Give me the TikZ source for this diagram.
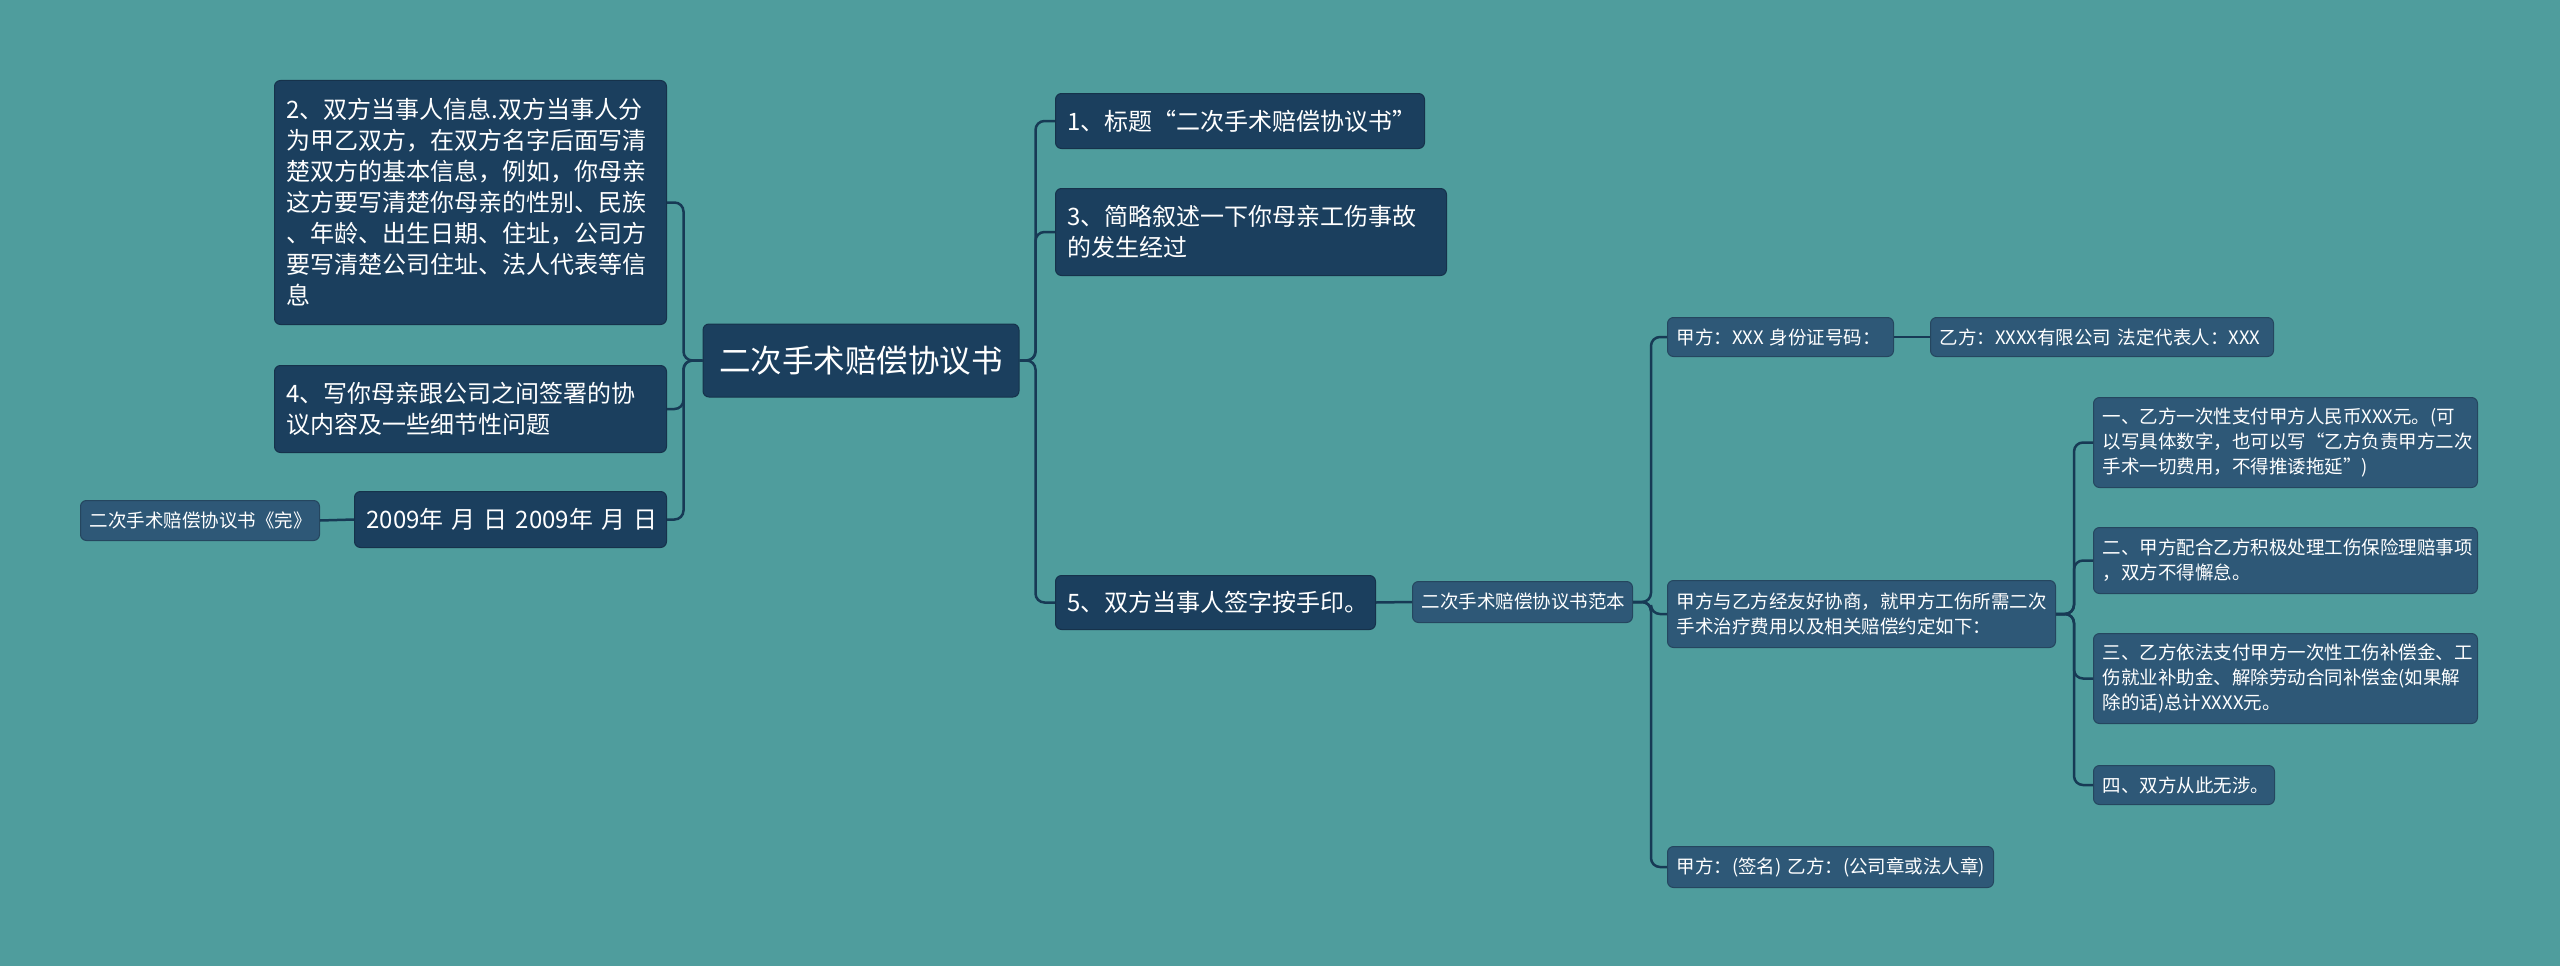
\documentclass[tikz,border=0pt]{standalone}
\usepackage{fontspec}
\setmainfont{Noto Sans CJK SC}
\definecolor{bg}{HTML}{4F9D9D}
\definecolor{dk}{HTML}{1B3F5E}
\definecolor{md}{HTML}{2E5877}
\definecolor{ln}{HTML}{173A55}
\tikzset{
  base/.style={anchor=north west, text=white, rounded corners=6pt, inner ysep=0pt, align=left},
  lvlA/.style={base, fill=dk, draw=dk!80!black, line width=1pt, font=\fontsize{24}{31}\selectfont, inner xsep=12pt},
  lvlB/.style={base, fill=md, draw=md!80!black, line width=1pt, font=\fontsize{18.5}{25}\selectfont, inner xsep=9pt},
  rootbox/.style={fill=dk, draw=dk!80!black, line width=1pt, text=white, rounded corners=6pt, inner sep=0pt, font=\fontsize{31.5}{38}\selectfont},
  conn/.style={draw=ln, line width=2.5pt, rounded corners=9pt},
}
\begin{document}
\begin{tikzpicture}[x=1pt,y=-1pt]
\useasboundingbox (0,0) rectangle (2560,966);
\fill[bg] (0,0) rectangle (2560,966);

% root
\node[rootbox, minimum width=316pt, minimum height=73pt] (root) at (861,360.5) {二次手术赔偿协议书};

% left side
\node[lvlA, text width=368pt, minimum height=244pt] (n2) at (274,80) {2、双方当事人信息.双方当事人分\\为甲乙双方，在双方名字后面写清\\楚双方的基本信息，例如，你母亲\\这方要写清楚你母亲的性别、民族\\、年龄、出生日期、住址，公司方\\要写清楚公司住址、法人代表等信\\息};
\node[lvlA, text width=368pt, minimum height=87pt] (n4) at (274,365) {4、写你母亲跟公司之间签署的协\\议内容及一些细节性问题};
\node[lvlA, text width=288pt, minimum height=56pt] (date) at (354,491) {\mbox{2009年 月 日 2009年 月 日}};
\node[lvlB, text width=221pt, minimum height=40pt] (wan) at (80,500) {二次手术赔偿协议书《完》};

% right side level 1
\node[lvlA, text width=345pt, minimum height=55pt] (n1) at (1055,93) {1、标题“二次手术赔偿协议书”};
\node[lvlA, text width=367pt, minimum height=87pt] (n3) at (1055,188) {3、简略叙述一下你母亲工伤事故\\的发生经过};
\node[lvlA, text width=296pt, minimum height=54pt] (n5) at (1055,575) {5、双方当事人签字按手印。};

% level 2+
\node[lvlB, text width=202pt, minimum height=41pt] (fb) at (1412,581) {二次手术赔偿协议书范本};
\node[lvlB, text width=208pt, minimum height=39pt] (jia) at (1667,317) {\mbox{甲方：XXX 身份证号码：}};
\node[lvlB, text width=325pt, minimum height=39pt] (yi) at (1930,317) {\mbox{乙方：XXXX有限公司 法定代表人：XXX}};
\node[lvlB, text width=370pt, minimum height=67pt] (xie) at (1667,580) {甲方与乙方经友好协商，就甲方工伤所需二次\\手术治疗费用以及相关赔偿约定如下：};
\node[lvlB, text width=308pt, minimum height=41pt] (sig) at (1667,846) {\mbox{甲方：(签名) 乙方：(公司章或法人章)}};

\node[lvlB, text width=366pt, minimum height=90pt] (c1) at (2093,397) {一、乙方一次性支付甲方人民币XXX元。(可\\以写具体数字，也可以写“乙方负责甲方二次\\手术一切费用，不得推诿拖延”)};
\node[lvlB, text width=366pt, minimum height=66pt] (c2) at (2093,527) {二、甲方配合乙方积极处理工伤保险理赔事项\\，双方不得懈怠。};
\node[lvlB, text width=366pt, minimum height=90pt] (c3) at (2093,633) {三、乙方依法支付甲方一次性工伤补偿金、工\\伤就业补助金、解除劳动合同补偿金(如果解\\除的话)总计XXXX元。};
\node[lvlB, text width=163pt, minimum height=39pt] (c4) at (2093,765) {四、双方从此无涉。};

% connectors
\draw[conn] (root.west) -- ++(-19,0) |- (n2.east);
\draw[conn] (root.west) -- ++(-19,0) |- (n4.east);
\draw[conn] (root.west) -- ++(-19,0) |- (date.east);
\draw[conn] (date.west) -- (wan.east);

\draw[conn] (root.east) -- ++(16,0) |- (n1.west);
\draw[conn] (root.east) -- ++(16,0) |- (n3.west);
\draw[conn] (root.east) -- ++(16,0) |- (n5.west);

\draw[conn] (n5.east) -- (fb.west);
\draw[conn] (fb.east) -- ++(18,0) |- (jia.west);
\draw[conn] (fb.east) -- ++(18,0) |- (xie.west);
\draw[conn] (fb.east) -- ++(18,0) |- (sig.west);
\draw[conn] (jia.east) -- (yi.west);

\draw[conn] (xie.east) -- ++(18,0) |- (c1.west);
\draw[conn] (xie.east) -- ++(18,0) |- (c2.west);
\draw[conn] (xie.east) -- ++(18,0) |- (c3.west);
\draw[conn] (xie.east) -- ++(18,0) |- (c4.west);
\end{tikzpicture}
\end{document}
